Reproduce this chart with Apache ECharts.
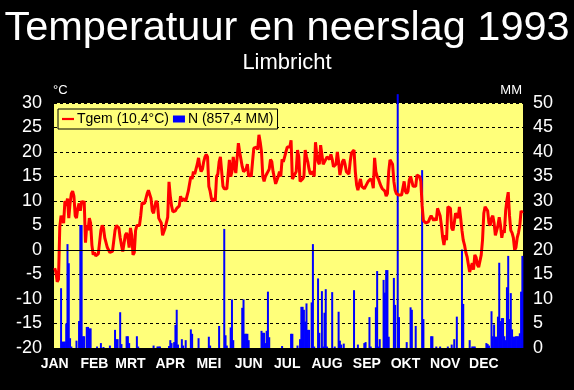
<!DOCTYPE html>
<html><head><meta charset="utf-8">
<script src="https://cdn.jsdelivr.net/npm/echarts@6/dist/echarts.min.js"></script>
<style>html,body{margin:0;padding:0;background:#000}#c{width:574px;height:390px}</style>
</head><body><div id="c"></div>
<script>
const monthNames = ['JAN','FEB','MRT','APR','MEI','JUN','JUL','AUG','SEP','OKT','NOV','DEC'];
const monthStarts = [0,31,59,90,120,151,181,212,243,273,304,334];
const leftTicks = [-20,-15,-10,-5,0,5,10,15,20,25,30];
const rightTicks = [0,5,10,15,20,25,30,35,40,45,50];

// daily mean temperature (°C) per month
const tJan = [-3.7,-4.5,-6.5,-6,4.7,7,7,5.5,10,9,10.5,6.5,9.5,11.5,12,11,7,6.5,8.5,9.5,8,10,9.5,10,1.5,5,4,6.5,5.5,1,-1];
const tFeb = [-0.5,-1.2,-1,-0.8,-1,4,5,4.5,2.5,1.5,0.5,0.8,-0.5,-0.5,-0.3,-0.5,4,5,5,4.5,2.5,1,-0.3,-0.5,3,3.5,2.5,0.5];
const tMar = [4.5,3,-1,-0.5,4,5,5.3,5,7,9.6,10,9.5,10.5,11.5,12.2,12,10.5,8,7.5,9,10,9.5,6.5,6,5.5,3,2.7,4.5,4.7,6.7,13.9];
const tApr = [11,9,7.8,7.5,8,8.5,8.5,9,11,10,10.5,10.5,10,11,12,12,15,14.5,16,15.5,16.5,17.5,18.8,17,16,16.5,18,19,19.5,19];
const tMay = [13,12,10.5,10,10.5,10,15,15.5,18,19,19.4,13,12.5,12.2,12.5,12.2,18.4,15,16,19,17,15.7,15.5,21.8,20,19.8,17,16,16.3,16.5,17.5];
const tJun = [15,15.5,15,18,20.8,21,21,20.5,23.5,22,20,15,14,15,15.5,16,16.5,18.5,18,16,16,13.5,13.3,15,16,15,18.5,18,19,20];
const tJul = [21,21.4,21,22.4,14.5,14.5,15.5,16,20.4,19,14,13.7,14.5,15,20.4,19,18,16.5,15.5,15.5,16,15,22,19.5,18,17.5,21.4,21,17.5,17.3,18.5];
const tAug = [19,19,18.5,19.5,18.5,17,17,17.5,20,18,15.3,15.5,18,18.5,17.5,16,16,15.5,18,19.8,20,20.4,16,13.3,12.2,12.5,14.5,13,12.8,12.5,12.5];
const tSep = [13.5,14,14,14.5,14,12.6,18.8,16,15,14.5,13.7,13,12.5,12.5,12,11,11.5,16,18.4,18.5,17.5,14,12.2,11.5,11.2,11.2,11.2,11.2,11.5,14];
const tOct = [12,11.5,12,14.3,15,15.3,13,12.7,13,15.3,15,15,14,9,6,5.8,5.5,5.7,5.8,6.5,7,6.5,6,6.5,6,8.5,8.5,7,5,2.5,1];
const tNov = [3,2,8.8,9,8.5,4.5,4,5.5,7.5,7.5,6.5,8.8,6.5,4,2,1,-0.5,-1.4,-3,-4.5,-3.5,-2.7,-4,-1,-1.5,-3,-3.5,-3.5,-1,2];
const tDec = [7.5,8.8,8.5,8,5.5,5,6.5,7,5.5,3,2.7,5,6.7,5,2.5,4,3.5,8,10.2,11.8,7,4,3.5,2.5,0,0.5,2.5,3.5,5,8,7.5];

// daily precipitation (mm) per month
const pJan = [0,0,0,0,0,12.2,1.3,1.3,1.3,5,21.2,17.3,2,0.3,0,0,0,1.5,0,5.5,25.1,25.1,2.4,2.4,0,4.3,4.3,4,4,0,0];
const pFeb = [0,0,0.3,0,0,1,0,0.2,0,0,0,0,0.5,0,0,0,3.7,1.8,1.8,0,7.3,0.8,0,0,0,2.4,2.4,1];
const pMar = [0,0,0,0,0,2.4,0.3,0,0,0,0,0,0,0,0,0,0,0,0.5,0,0,0.3,0.3,0.3,0,0,0,0,0,0,0.4];
const pApr = [1.6,1,0,1.2,4.7,7.8,0.7,0,0,1.8,0.5,0,1.6,0,0,0,3.8,2.9,0,0,0,0,2,0,0,0,0,0,0,0];
const pMay = [2.3,0.5,0,0,0,0,0,0,4.5,0,0,0,24.3,2.6,0.5,0,0,4.2,9.9,1.6,0,0,0,0,0,0,8.2,9.9,2.9,2.9,2.9];
const pJun = [1.6,0,0,0,0,0,0,0,0,0,3.5,3.1,3.1,1,3.5,11.5,2.2,0,0,0,0,0,0,0,0,0,0.4,0,0,0];
const pJul = [0,0,0,2.9,2.9,0,0,0,0.5,0,1.8,8.4,8.4,7.8,5.4,9.1,3.7,3.7,0,9.3,21.2,0.3,0,0,14.2,3.1,0,11.6,0.3,7.2,12];
const pAug = [0.3,0,0,0,11.4,0,0.3,0,0,7.4,1.5,0.7,0,0.9,0,0,0,0,0,0,0,11.8,0,0,0.7,0,0,0,0,1,1.2];
const pSep = [0,0,6.3,0.3,0,0,0,8.3,15.7,0.3,1.8,0,0,13.9,11.3,15.9,15.9,2.3,0,0,0,14.3,8.8,0,51.8,6.3,0,0,0,0];
const pOct = [0,1.2,0,0,8.3,7.8,0,0,4.5,0,0,0,0,36.3,5.9,0,0,0,0,0,2.4,2.4,0,0,0.3,0,0,0.3,0,0,0];
const pNov = [0,0,0.3,0,0,0.7,0,1.8,0,6.4,0,0,0,20.1,9,0,0,0,0,1.6,0,0.3,0.3,0.3,0,0,0,0,0,0];
const pDec = [0,0,1,0.8,0.5,0,7.5,2.4,4.8,2.3,2.3,6.4,17.4,5.5,6.1,6.1,2.4,1.6,12.4,18.8,5.9,11.2,3.8,2.3,2.3,2.4,2.4,2.4,3,11.5,18.8];

const temps = [].concat(tJan,tFeb,tMar,tApr,tMay,tJun,tJul,tAug,tSep,tOct,tNov,tDec);
const precip = [].concat(pJan,pFeb,pMar,pApr,pMay,pJun,pJul,pAug,pSep,pOct,pNov,pDec);
const days = temps.map((_, i) => String(i + 1));

const FONT = "'Liberation Sans', Arial, sans-serif";
const YEL = '#FFFF7A';

const chart = echarts.init(document.getElementById('c'), null, {renderer: 'canvas'});
chart.setOption({
  backgroundColor: '#000',
  animation: false,
  title: [
    {text: 'Temperatuur en neerslag 1993', left: 'center', top: 3,
     textStyle: {color: '#fff', fontSize: 41.5, fontWeight: 'normal', fontFamily: FONT}},
    {text: 'Limbricht', left: 'center', top: 47,
     textStyle: {color: '#fff', fontSize: 22, fontWeight: 'normal', fontFamily: FONT}}
  ],
  graphic: [
    {type: 'text', left: 53, top: 84, style: {text: '°C', fill: '#fff', font: "13px 'Liberation Sans', Arial"}},
    {type: 'text', right: 52, top: 84, style: {text: 'MM', fill: '#fff', font: "13px 'Liberation Sans', Arial"}}
  ],
  legend: {
    left: 58, top: 109, orient: 'horizontal',
    data: [
      {name: 'Tgem (10,4°C)', icon: 'path://M0,0M0,2.4H12V4.6H0ZM12,7', itemStyle: {color: '#FF0000', borderWidth: 0}},
      {name: 'N (857,4 MM)', icon: 'rect'}
    ],
    itemWidth: 12, itemHeight: 7, itemGap: 4,
    padding: [3, 4, 3, 4],
    backgroundColor: YEL, borderColor: '#000', borderWidth: 1,
    selectedMode: false,
    textStyle: {color: '#000', fontSize: 14, fontFamily: FONT, padding: [0, 0, 0, -2]}
  },
  grid: {left: 54, right: 51, top: 103, bottom: 42, show: true, backgroundColor: YEL, borderWidth: 0},
  xAxis: {
    type: 'category', data: days, boundaryGap: true,
    axisLine: {show: false}, axisTick: {show: false}, splitLine: {show: false},
    axisLabel: {
      color: '#fff', fontSize: 14, fontWeight: 'bold', fontFamily: FONT, margin: 9,
      interval: (i) => monthStarts.indexOf(i) >= 0,
      formatter: (v, i) => { const k = monthStarts.indexOf(i); return k >= 0 ? monthNames[k] : ''; }
    }
  },
  yAxis: [
    {type: 'value', min: leftTicks[0], max: leftTicks[leftTicks.length - 1], interval: 5,
     axisLine: {show: false}, axisTick: {show: false},
     axisLabel: {color: '#fff', fontSize: 18, fontFamily: FONT, margin: 12},
     splitLine: {show: true, lineStyle: {color: '#000', type: [3, 3], width: 1}}},
    {type: 'value', min: rightTicks[0], max: rightTicks[rightTicks.length - 1], interval: 5,
     axisLine: {show: false}, axisTick: {show: false},
     axisLabel: {color: '#fff', fontSize: 18, fontFamily: FONT, margin: 10},
     splitLine: {show: false}}
  ],
  series: [
    {name: 'Tgem (10,4°C)', type: 'line', data: temps, yAxisIndex: 0,
     symbol: 'none', showSymbol: false,
     lineStyle: {color: '#FF0000', width: 3}, itemStyle: {color: '#FF0000'}},
    {name: 'N (857,4 MM)', type: 'bar', data: precip, yAxisIndex: 1,
     barWidth: 2, barGap: '-100%', clip: false,
     itemStyle: {color: '#0000FF'},
     markLine: {silent: true, symbol: 'none', label: {show: false},
       lineStyle: {color: '#000', type: 'solid', width: 1},
       data: [{yAxis: 20}]}}
  ]
});
</script>
</body></html>
